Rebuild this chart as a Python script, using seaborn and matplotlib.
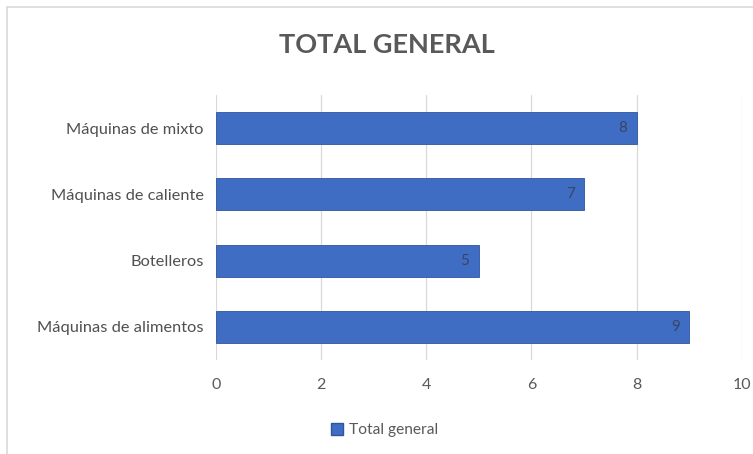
import matplotlib
matplotlib.use("Agg")
import matplotlib.pyplot as plt
from matplotlib.lines import Line2D
from matplotlib.patches import Patch
import seaborn as sns
import pandas as pd

categories = ["Máquinas de mixto", "Máquinas de caliente", "Botelleros", "Máquinas de alimentos"]
values = [8, 7, 5, 9]
x_ticks = [0, 2, 4, 6, 8, 10]
series_name = "Total general"
title = "TOTAL GENERAL"

sns.set_theme(style="white")
plt.rcParams["font.family"] = ["Lato", "DejaVu Sans"]

df = pd.DataFrame({"cat": categories, "val": values})

fig = plt.figure(figsize=(7.53, 4.54), dpi=100)
ax = fig.add_axes([0.287, 0.207, 0.698, 0.584])

bar_color = "#3F6DC4"
sns.barplot(data=df, x="val", y="cat", orient="h", color=bar_color,
            width=0.48, saturation=1, ax=ax, order=categories)

for p in ax.patches:
    p.set_edgecolor("#2F559E")
    p.set_linewidth(0.6)

for i, v in enumerate(values):
    ax.text(v - 0.18, i, str(v), ha="right", va="center",
            fontsize=11, color="#3A4560")

ax.set_xlim(0, 10)
ax.set_ylim(3.5, -0.5)
ax.set_xticks(x_ticks)
ax.set_xticklabels([str(t) for t in x_ticks])
ax.set_xlabel("")
ax.set_ylabel("")
ax.xaxis.grid(True, color="#D9D9D9", linewidth=0.9)
ax.set_axisbelow(True)
for s in ax.spines.values():
    s.set_visible(False)
ax.tick_params(axis="x", colors="#595959", labelsize=11.5, length=0, pad=13)
ax.tick_params(axis="y", colors="#505050", labelsize=11.8, length=0, pad=9)

fig.text(0.514, 0.90, title, ha="center", va="center", fontsize=19.5,
         fontweight="bold", color="#595959")

handles = [Patch(facecolor=bar_color, edgecolor="#2F559E", label=series_name)]
fig.legend(handles=handles, loc="center", bbox_to_anchor=(0.511, 0.052),
           frameon=False, fontsize=11.2, labelcolor="#595959",
           handlelength=0.75, handleheight=0.75, handletextpad=0.4)

# thin frame along the top and left edges of the chart area
fig.add_artist(Line2D([0.0093, 1.0], [0.985, 0.985], color="#D9D9D9", linewidth=1.2))
fig.add_artist(Line2D([0.0093, 0.0093], [0.0, 0.985], color="#D9D9D9", linewidth=1.2))

fig.savefig("out.png", dpi=100)
